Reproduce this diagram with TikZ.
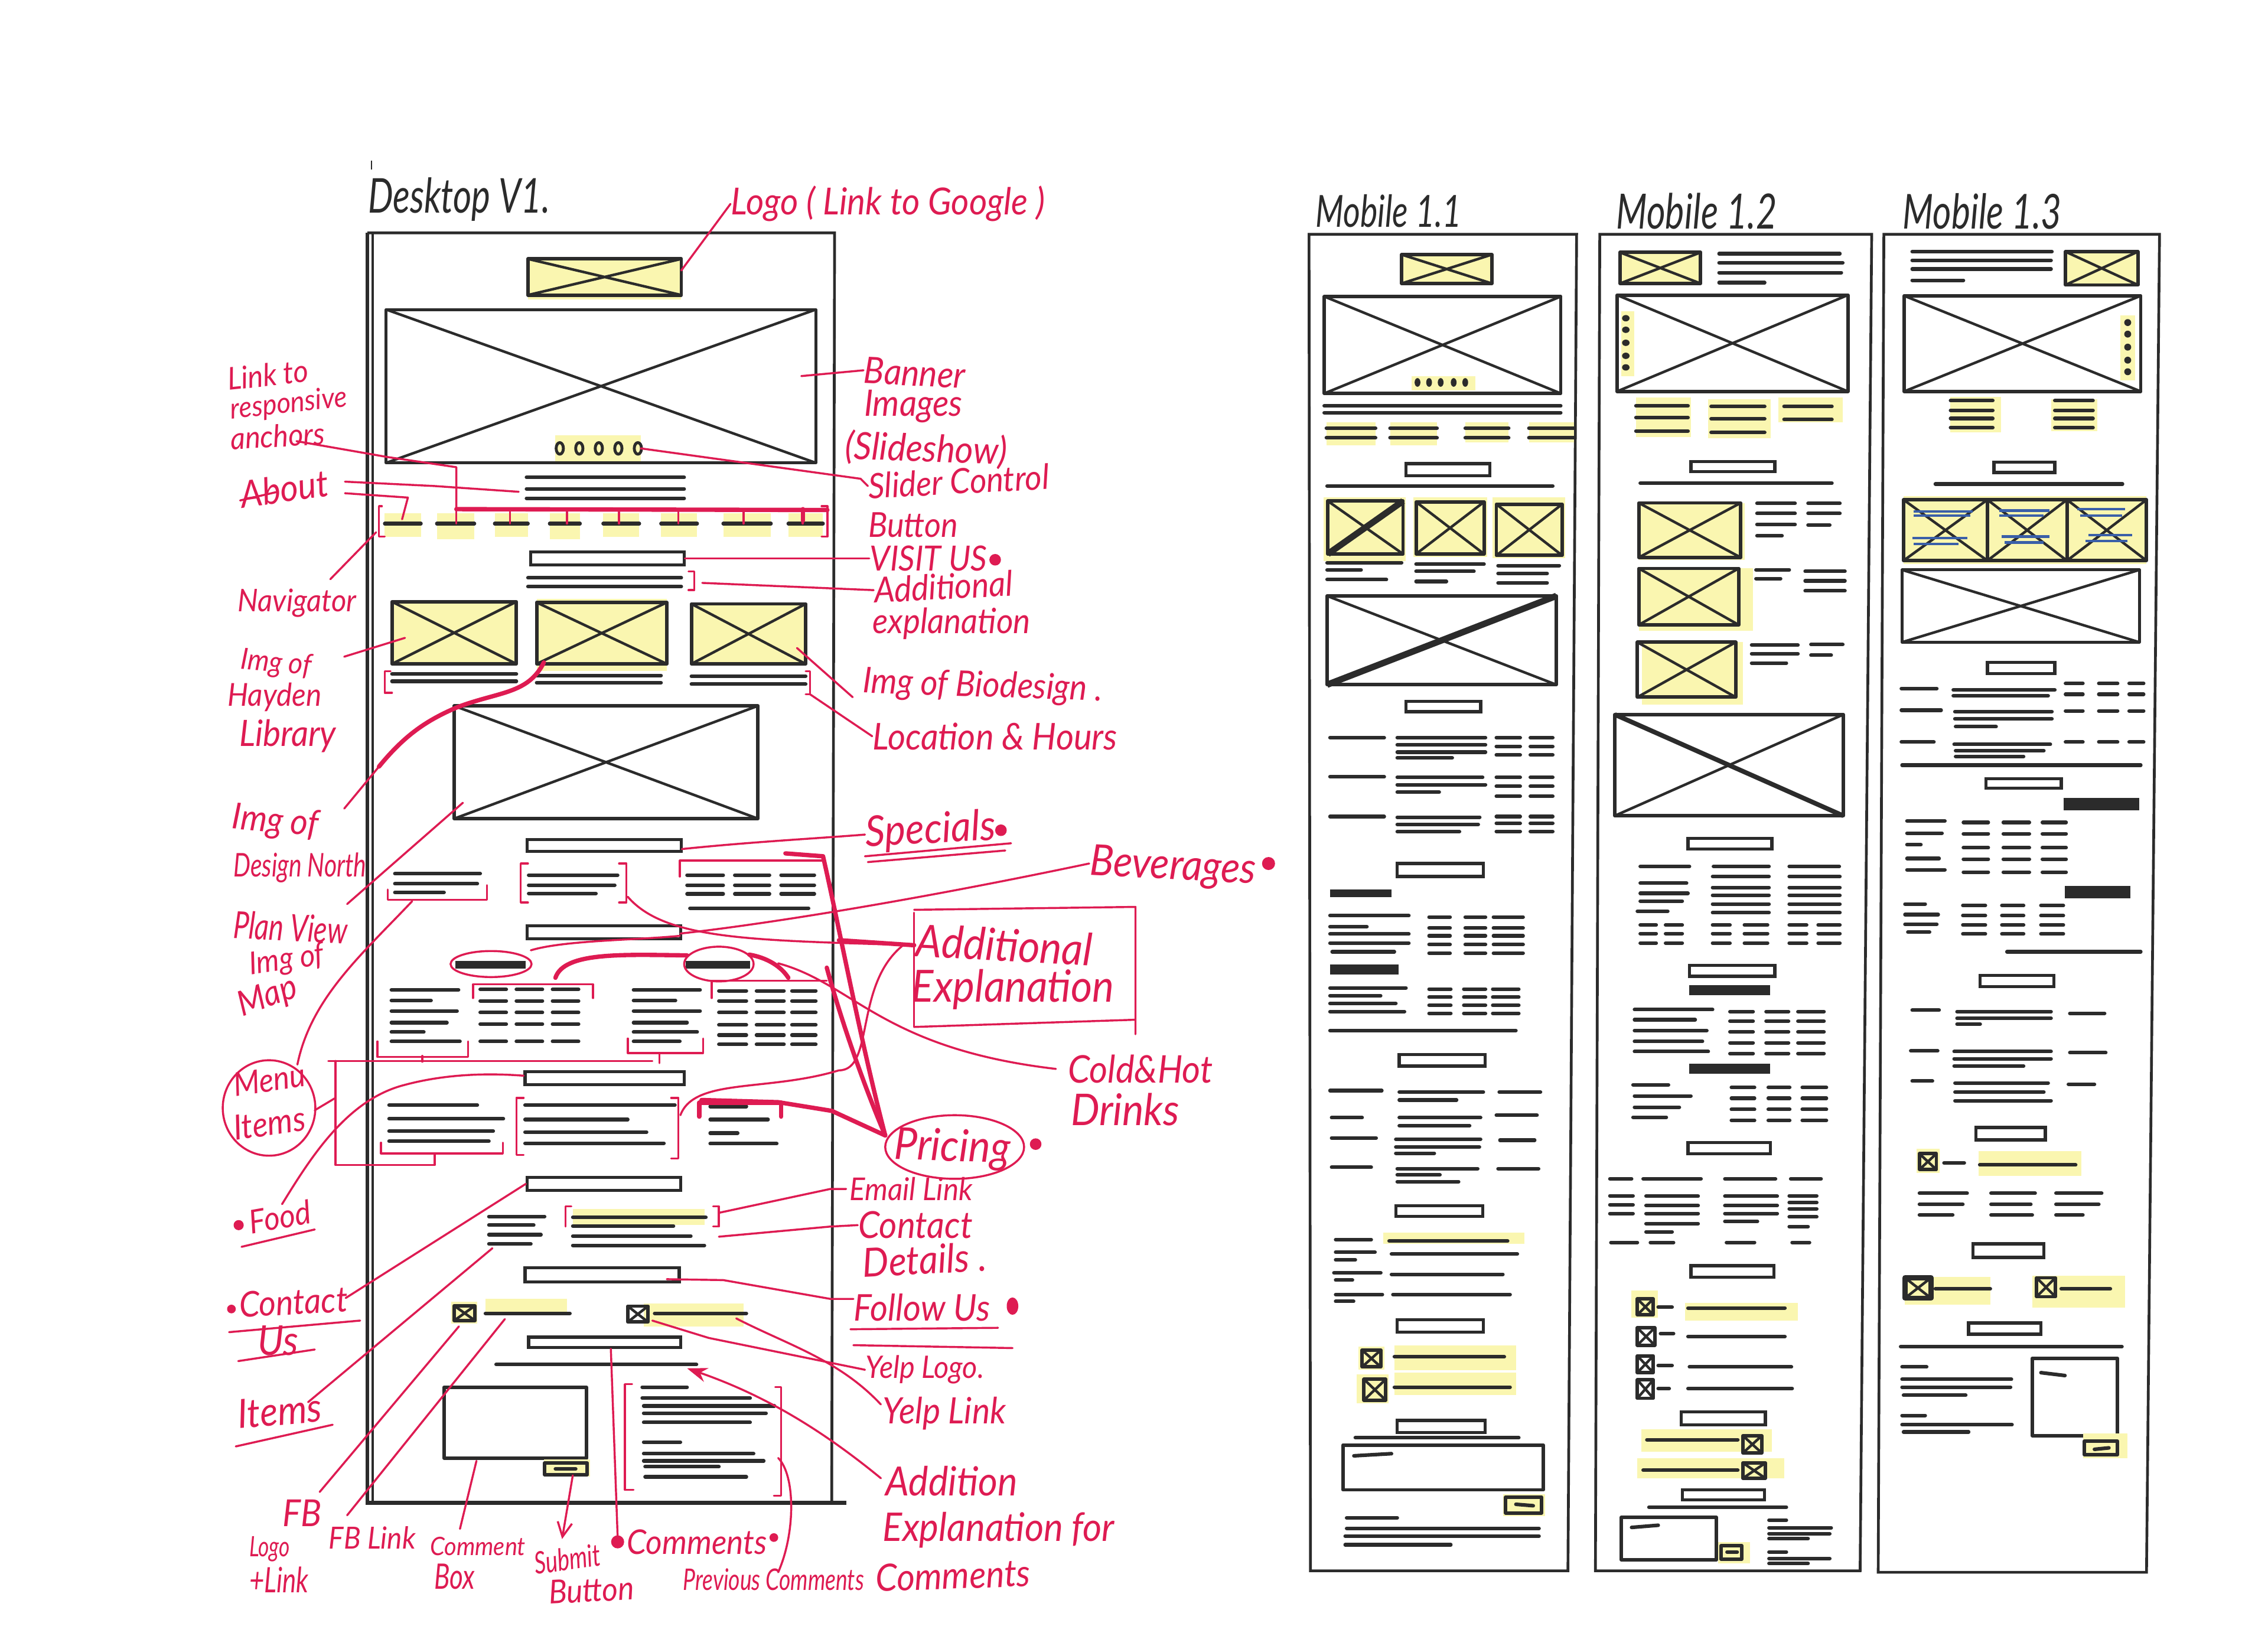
\documentclass[tikz,border=0pt]{standalone}
\usepackage{fontspec}
\usepackage{graphicx}
\setmainfont{Lato}
\usetikzlibrary{arrows.meta}
\definecolor{penred}{HTML}{DE1B52}
\definecolor{hiyel}{HTML}{FAF6B0}
\definecolor{inkb}{HTML}{2B2B2B}
\definecolor{inkblue}{HTML}{3A5FA8}
\tikzset{
  frame/.style={draw=inkb,line width=0.95pt},
  txt/.style={draw=inkb,line width=1.25pt,line cap=round},
  hvy/.style={draw=inkb,line width=2.8pt},
  bx/.style={draw=inkb,line width=1.2pt,line join=round},
  bxt/.style={draw=inkb,line width=1pt,line join=round},
  xl/.style={draw=inkb,line width=0.9pt},
  xh/.style={draw=inkb,line width=2.2pt},
  sec/.style={draw=inkb,line width=1.1pt,fill=white},
  hl/.style={fill=hiyel},
  pen/.style={draw=penred,line width=0.7pt,line cap=round,line join=round},
  pens/.style={draw=penred,line width=1.5pt,line cap=round,line join=round},
  hand/.style={inner sep=0pt,text=penred,font=\itshape},
  handk/.style={inner sep=0pt,text=inkb,font=\itshape},
  dotr/.style={fill=penred}
}
\newcommand\HW[6][0]{\node[hand,rotate=#1,anchor=west] (#2) at (#3,#4) {\scalebox{1}[1.08]{\resizebox{\dimexpr#5pt/2\relax}{!}{#6}}};}
\newcommand\HT[6][0]{\node[hand,rotate=#1,anchor=west] (#2) at (#3,#4) {\scalebox{1}[1.35]{\resizebox{\dimexpr#5pt/2\relax}{!}{#6}}};}
\newcommand\HK[5]{\node[handk,anchor=west] (#1) at (#2,#3) {\scalebox{1}[1.35]{\resizebox{\dimexpr#4pt/2\relax}{!}{#5}}};}
\newcommand\LNS[3]{\foreach \yy in {#3}{\draw[txt] (#1,\yy)--(#2,\yy);}}
\newcommand\TBL[2]{\foreach \aa/\bb in {#1}{\foreach \yy in {#2}{\draw[txt] (\aa,\yy)--(\bb,\yy);}}}
\newcommand\HLR[4]{\fill[hl] (#1,#2) rectangle (#3,#4);}
\newcommand\XB[5][bx]{\draw[#1] (#2,#3) rectangle (#4,#5);\draw[xl] (#2,#3)--(#4,#5) (#2,#5)--(#4,#3);}
\newcommand\SBX[4]{\draw[sec] (#1,#2) rectangle (#3,#4);}
\begin{document}
\begin{tikzpicture}[x=0.5pt,y=-0.5pt]
\useasboundingbox (0,0) rectangle (1568,1140);
\fill[white] (0,0) rectangle (1568,1140);

% ---------- DESKTOP ----------
\draw[inkb,line width=0.4pt] (257,111)--(257,117);
\draw[frame] (254,161)--(577,161)--(575,1039);
\draw[frame,line width=1.3pt] (254,161)--(254,1039)--(585,1039);
\draw[frame] (257.6,161)--(257.6,1039);
\HLR{365}{179}{471}{207}
\XB{365}{179}{471}{204}
\XB[bxt]{267}{214}{564}{320}
\HLR{384}{301}{443}{319}
\foreach \x in {387,400.5,414,427.5,441}{\draw[bxt] (\x,310) ellipse (2.5 and 4);}
\LNS{364}{473}{330,338,344.5}
\HLR{266}{355}{291}{371}\HLR{302}{355}{328}{373}\HLR{342}{355}{365}{371}\HLR{380}{355}{401}{373}\HLR{417}{355}{442}{371}\HLR{457}{355}{482}{371}\HLR{500}{355}{533}{371}\HLR{545}{355}{569}{371}
\TBL{266/291,302/328,342/365,380/401,417/442,457/482,500/533,545/569}{362}
\SBX{367}{381.6}{473}{390.5}
\LNS{365}{471}{399.5,405.5}
\HLR{271}{416}{357}{459}\XB{271}{416}{357}{459}
\HLR{371}{414}{461}{464}\XB{371}{416.5}{461}{459}
\HLR{478}{417.5}{557}{459}\XB{478}{417.5}{557}{459}
\LNS{271}{357}{466,471}
\LNS{371}{457}{467,472}
\LNS{478}{557}{467.5,473}
\XB{314}{488}{524}{566}
\SBX{364.5}{580.5}{471}{588.5}
\draw[txt] (273,604)--(332,604) (273,611)--(330,611) (273,617)--(307,617);
\draw[txt] (365.5,605)--(427,605) (365.5,612)--(425,612) (365.5,617.7)--(412,617.7);
\TBL{475/500,508/532,540/563}{605,612,618}
\draw[txt] (477,628)--(559,628);
\SBX{364.5}{640}{470.5}{649}
\draw[hvy] (315,667)--(363.5,667) (474,667)--(518.6,667);
\draw[txt] (270.6,684.4)--(317,684.4) (270.6,691.7)--(298,691.7) (270.6,699)--(316,699) (270.6,707)--(309,707) (270.6,713.5)--(293,713.5) (270.6,720)--(318,720);
\TBL{332/350,357/375,382/400}{684,692,700,708,720}
\draw[txt] (438,684.4)--(484,684.4) (438,691.7)--(467,691.7) (438,699)--(484,699) (438,707)--(475,707) (438,713.5)--(482,713.5) (438,720)--(470,720);
\TBL{497/516,523/542,547.5/564}{685,692,700,708.6,715.6,722}
\SBX{363}{741}{473}{750}
\draw[txt] (269,764)--(330,764) (269,773.5)--(348,773.5) (269,782)--(341,782) (269,789)--(338,789);
\draw[txt] (363,764)--(466.6,764) (363,774)--(434,774) (363,782.7)--(447,782.7) (363,790.4)--(459,790.4);
\draw[txt] (491,765)--(516,765) (491,774)--(531,774) (491,783.4)--(510,783.4) (491,790.7)--(537,790.7);
\SBX{364.5}{814}{470.5}{823}
\draw[txt] (338,841)--(376.5,841) (338,847)--(369,847) (338,853.6)--(374,853.6) (338,860)--(367,860);
\HLR{396}{836}{487}{847}
\draw[txt] (396,841.6)--(488,841.6) (396,847.6)--(465.6,847.6) (396,854.6)--(477.6,854.6) (396,861)--(487,861);
\SBX{363}{876.4}{469.5}{886.2}
\HLR{312}{900}{330}{915}\HLR{335.6}{898}{392}{908}
\XB{314}{902.7}{328.4}{913}
\draw[txt] (335.6,908)--(394,908);
\HLR{445}{901}{514}{917}
\XB{434}{903}{448}{914}
\draw[txt] (452.6,908)--(516,908);
\SBX{365.5}{924.5}{470.5}{931.5}
\draw[txt] (343,943.4)--(481.5,943.4);
\draw[bx] (307,959) rectangle (405.4,1008);
\HLR{376}{1009}{408}{1021}
\draw[bx] (376.5,1011.5) rectangle (406,1019.5);
\draw[txt] (384,1015.5)--(398,1015.5);
\draw[txt] (444,959)--(475,959) (444,966.6)--(518.6,966.6) (445,972)--(535.4,972) (445,977)--(529.6,977) (445,983.4)--(518.6,983.4) (445,997)--(470.4,997) (445,1005)--(521,1005) (445,1010)--(528,1010) (446,1014)--(497,1014) (446,1021)--(516,1021);

% ---------- MOBILE 1.1 ----------
\draw[frame] (905,162)--(1090,162)--(1084,1086)--(906,1086)--cycle;
\HLR{969}{176}{1031.4}{196}\XB{969}{176}{1031.4}{196}
\XB{915.6}{205}{1079}{272}
\HLR{976}{260}{1020}{270}
\foreach \x in {980,988,996,1005,1013}{\fill[inkb] (\x,264.4) ellipse (2 and 3);}
\LNS{915.5}{1079}{280.6,285.3}
\HLR{917}{292}{951}{308}\HLR{961}{292}{993.5}{308}\HLR{1013}{292}{1043}{306}\HLR{1057}{292}{1088}{306}
\TBL{917/951,961/993.5,1013/1043,1057/1088}{296,302.7}
\SBX{972}{320.5}{1030}{329}
\draw[txt] (917.5,336)--(1073.5,336);
\HLR{915}{344}{972}{388}\XB{918}{346.4}{970}{383}\draw[xh] (918,383)--(970,346.4);
\HLR{977}{344}{1028}{385}\XB{979}{347}{1026}{383}
\HLR{1032}{344}{1082}{386}\XB{1034.5}{348.6}{1080}{384}
\draw[txt] (917.5,389)--(969,389) (917.5,394)--(941,394) (917.5,400.7)--(958.5,400.7) (979,390)--(1026,390) (979,395)--(1019,395) (979,402)--(1000,402) (1035.7,391)--(1078,391) (1035.7,396.5)--(1069.6,396.5) (1035.7,403)--(1069.6,403);
\XB{917.5}{412}{1076}{473.4}\draw[xh] (917.5,473.4)--(1076,412);
\SBX{972}{485}{1023.6}{492}
\TBL{919.5/957}{510,537,564.5}
\draw[txt] (966,510)--(1027,510) (966,515)--(1027,515) (966,520)--(1027,520) (966,524)--(1004,524);
\draw[txt] (966,537.4)--(1025,537.4) (966,542.5)--(1027,542.5) (966,547.7)--(995,547.7);
\draw[txt] (966,565)--(1023,565) (966,570)--(1022,570) (966,575)--(1009,575);
\TBL{1034.5/1051,1058/1073.5}{510,516,522,537.4,543.6,550.5,564.5,569.2,574.8}
\SBX{966}{597}{1025.5}{606}
\draw[hvy] (919.5,617.6)--(962,617.6);
\draw[txt] (919.5,633)--(974,633) (919.5,640.7)--(945,640.7) (919.5,645.7)--(974,645.7) (919.5,652)--(974,652) (921,658)--(964,658);
\TBL{988/1002.5,1013/1027,1032.5/1053}{634,641.6,647,653,659}
\draw[hvy,line width=3.5pt] (919.5,670.3)--(967,670.3);
\draw[txt] (919.5,683)--(972,683) (919.5,688.4)--(954.5,688.4) (919.5,693.7)--(965,693.7) (919.5,699.4)--(971,699.4);
\TBL{988/1003,1012/1027,1032/1050}{683.8,689.4,695,700.6}
\draw[txt] (919.5,712.5)--(1048,712.5);
\SBX{967.4}{729}{1026.7}{737}
\draw[txt] (919.5,754)--(955.3,754) (967.4,755)--(1025.5,755) (967.4,760.5)--(1007,760.5) (1036.5,755)--(1065,755);
\draw[txt] (920.6,772.7)--(941.7,772.7) (967.4,772.7)--(1023.6,772.7) (967.4,778.3)--(1016,778.3) (1034.5,771)--(1062.6,771);
\draw[txt] (920.6,786.7)--(951.4,786.7) (965,787.7)--(1023.6,787.7) (965,793)--(1022.8,793) (965,797.3)--(991.6,797.3) (1037,788.3)--(1061,788.3);
\draw[txt] (920.6,807)--(948,807) (966,808)--(1021.6,808) (966,812.3)--(995.5,812.3) (966,817)--(1008.4,817) (1035.7,808)--(1063.7,808);
\SBX{965}{833.5}{1025}{841}
\HLR{956.5}{852}{1054}{860}
\draw[txt] (960.4,858)--(1042.3,858) (962,867)--(1049,867) (962,881)--(1039,881) (963,895)--(1044,895);
\draw[txt] (923.4,857)--(948,857) (923.4,865.7)--(950.6,865.7) (923.4,871)--(937,871) (922.2,880)--(954.6,880) (923.4,885)--(935,885) (923.4,895)--(955.7,895) (923.4,899.7)--(935.8,899.7);
\SBX{966}{912.5}{1025.5}{921}
\HLR{964}{930}{1048}{947.4}\HLR{964}{949}{1048}{964.6}\HLR{939}{931}{957}{947}\HLR{938}{950}{960}{970}
\XB{941.7}{933.4}{954.6}{945}
\draw[txt] (964,938)--(1040,938);
\XB{943}{953.6}{958}{968}
\draw[txt] (964,959)--(1044,959);
\SBX{966}{982}{1026.7}{990.5}
\draw[txt] (937,994)--(1050,994);
\draw[bx] (928.4,999) rectangle (1067,1030);
\draw[txt] (936,1006.5)--(962,1005);
\HLR{1039}{1033}{1068}{1048}
\draw[bx] (1041,1035) rectangle (1065.7,1046);
\draw[txt] (1048,1040)--(1060,1041);
\draw[txt] (931,1049.4)--(966,1049.4) (931,1056.6)--(1064,1056.6) (930,1062)--(1064,1062) (930,1068)--(1003,1068);

% ---------- MOBILE 1.2 ----------
\draw[frame] (1106,162)--(1294,162)--(1286,1086)--(1103,1086)--cycle;
\HLR{1120}{174.5}{1175.7}{196}\XB{1120}{174.5}{1175.7}{196}
\draw[txt] (1188.5,175.4)--(1272,175.4) (1188.5,181.7)--(1274,181.7) (1188.5,188.5)--(1273,188.5) (1188.5,195.4)--(1220,195.4);
\HLR{1121}{215}{1130}{260}
\XB{1118}{204}{1277.5}{270.6}
\foreach \y in {220,228,237,246,254}{\fill[inkb] (1124,\y) ellipse (2.6 and 2.2);}
\HLR{1131}{275}{1169}{302}\HLR{1181}{276}{1224}{303}\HLR{1229.5}{275}{1274}{292}
\LNS{1131}{1167}{280.6,288.7,298}
\LNS{1183}{1220}{281,289.5,299}
\LNS{1233.4}{1266.5}{281,290}
\SBX{1169}{319}{1227}{326}
\draw[txt] (1134,334)--(1266.5,334);
\HLR{1133}{347.7}{1206}{387}\XB{1133}{347.7}{1203.4}{385.4}
\HLR{1133}{393}{1212}{436}\XB{1133}{393}{1202}{432}
\HLR{1135}{444}{1205}{487}\XB{1132}{444}{1200}{482}
\draw[txt] (1214.7,348)--(1241,348) (1214.7,355)--(1241,355) (1214.7,362.6)--(1241,362.6) (1214.7,370.4)--(1232,370.4) (1250,348)--(1272,348) (1250,355)--(1272,355) (1250,363)--(1265,363);
\draw[txt] (1214,394)--(1237,394) (1214,400)--(1231,400) (1248,395)--(1275.5,395) (1248,401.6)--(1275.5,401.6) (1248,408.5)--(1275.5,408.5);
\draw[txt] (1211,446)--(1243,446) (1211,452)--(1243,452) (1211,458.4)--(1235,458.4) (1252,445.6)--(1274,445.6) (1252,453)--(1266,453);
\XB{1116.4}{494}{1274.4}{564}\draw[xh,line width=1.6pt] (1116.4,494)--(1274.4,564);
\SBX{1167}{579.5}{1225}{587}
\TBL{1134/1168,1184.6/1223,1237/1271.6}{599}
\draw[txt] (1134,610.6)--(1166,610.6) (1134,617.6)--(1167,617.6) (1134,623)--(1163,623) (1132,630)--(1153,630);
\TBL{1184/1223,1237/1272}{606,613.6,619,625,631}
\TBL{1134/1145,1151.5/1163,1184/1196,1206/1222,1237/1249,1257/1272}{639.5,645.4,652}
\SBX{1168}{667.5}{1227}{675}
\draw[hvy,line width=3.5pt] (1168,684.7)--(1223.7,684.7);
\draw[txt] (1130,698)--(1184,698) (1130,705)--(1172,705) (1130,712.5)--(1180,712.5) (1130,720)--(1177,720) (1130,727)--(1181,727);
\TBL{1196/1212,1221/1236.5,1243/1261}{699.4,706,713.4,721,728.4}
\draw[hvy,line width=3.5pt] (1168,739)--(1223.7,739);
\draw[txt] (1129,750)--(1153.5,750) (1130,757.7)--(1169,757.7) (1130,765.5)--(1161,765.5) (1129,772.4)--(1152,772.4);
\TBL{1197/1213,1222.5/1237.3,1246/1262.7}{751.8,759.3,767,774.6}
\SBX{1167}{790}{1224}{797.6}
\TBL{1113/1128,1136/1176,1192.5/1227.5,1238/1259}{815}
\TBL{1113/1129}{826.7,833,839}
\draw[txt] (1138,827)--(1174,827) (1138,833.5)--(1174,833.5) (1138,839)--(1174,839) (1138,846)--(1174,846) (1138,851.6)--(1156,851.6);
\draw[txt] (1192.5,827)--(1228.7,827) (1192.5,833.5)--(1228.7,833.5) (1192.5,839)--(1228.7,839) (1192.5,844.4)--(1215,844.4);
\draw[txt] (1237,826.7)--(1256,826.7) (1237,831.4)--(1256,831.4) (1237,835.7)--(1256,835.7) (1237,841.3)--(1256,841.3) (1237,848)--(1250,848);
\TBL{1113.7/1132,1141/1157,1193.6/1213,1239/1251}{859}
\SBX{1169}{875}{1226.4}{883}
\HLR{1165}{900.6}{1243}{913}\HLR{1128}{892}{1146}{911}
\XB{1132}{898}{1143}{909}\draw[txt] (1146.4,903.7)--(1156,903.7) (1167,904.3)--(1234,904.3);
\XB{1132}{918}{1144}{930}\draw[txt] (1148,922)--(1157,922) (1167,924)--(1234,924);
\XB{1132}{937.4}{1143}{949}\draw[txt] (1146.4,944)--(1156,944) (1168,945)--(1238.5,945);
\XB{1132}{954}{1143}{966.7}\draw[txt] (1146.4,960)--(1154,960) (1167,960)--(1239,960);
\SBX{1162.4}{976}{1220.5}{985}
\HLR{1134.7}{988}{1225}{1003.6}\HLR{1132}{1008}{1233.4}{1022}
\draw[txt] (1138.6,995.4)--(1201.4,995.4) (1136,1016.4)--(1201.4,1016.4);
\XB{1205}{992.6}{1218}{1004.5}\XB{1205}{1011.4}{1220.5}{1022}
\SBX{1163}{1030}{1220}{1037}
\draw[txt] (1140,1042)--(1235,1042);
\draw[bx] (1121,1049) rectangle (1186.6,1078.4);
\draw[txt] (1128,1056)--(1146.4,1054.5);
\HLR{1188}{1066}{1210}{1081}
\draw[bx] (1190,1068.5) rectangle (1204,1078);
\draw[txt] (1194,1073)--(1201,1073);
\draw[txt] (1223,1051)--(1235,1051) (1223,1056.3)--(1266,1056.3) (1223,1060.3)--(1265,1060.3) (1223,1063.8)--(1250,1063.8) (1223,1073)--(1235,1073) (1223,1077.5)--(1265,1077.5) (1223,1081)--(1250,1081);

% ---------- MOBILE 1.3 ----------
\draw[frame] (1302.4,162)--(1493,162)--(1484,1087)--(1298.5,1087)--cycle;
\draw[txt] (1322,174)--(1418.6,174) (1322,180)--(1418,180) (1322,186)--(1418,186) (1322,193.8)--(1357.4,193.8);
\HLR{1428}{174}{1478}{197}\XB{1428}{174}{1478}{197}
\HLR{1466}{218}{1476}{263}
\XB{1316.5}{204.5}{1480}{270.6}
\foreach \y in {223,231,240,249,257}{\fill[inkb] (1471,\y) ellipse (2.4 and 2.4);}
\HLR{1348.5}{274.4}{1383.5}{298.7}\HLR{1418}{276}{1450}{298}
\LNS{1348.5}{1377.7}{277,283.7,289.3,295.6}
\LNS{1420.6}{1447}{277,283.7,289.3,295.6}
\SBX{1378.5}{319.6}{1420.6}{326.7}
\draw[txt] (1338,334.6)--(1467.4,334.6);
\HLR{1316}{343}{1484}{390}
\XB{1316}{345.5}{1374}{387.6}\XB{1374}{345.5}{1429}{387.6}\XB{1429}{345.5}{1484}{387.6}
\draw[inkblue,line width=0.9pt] (1323,353.5)--(1364,353.5) (1323,356.5)--(1362,356.5) (1322,372)--(1360,372) (1323,376)--(1354,376) (1382,353)--(1417,353) (1382,356.5)--(1413,356.5) (1384,371)--(1417,371) (1386,375)--(1413,375) (1436,352)--(1469,352) (1438,356.5)--(1467,356.5) (1444,370)--(1474,370) (1442,374)--(1471,374);
\XB[bxt]{1315}{394}{1479}{444}
\SBX{1374}{458}{1420.6}{465.6}
\TBL{1428/1440,1451/1464,1472/1482}{472.5,480,491.5,513}
\draw[txt] (1314.5,476)--(1339,476) (1350.4,477)--(1420.6,477) (1350.4,481)--(1416,481);
\draw[txt] (1314.5,491)--(1342,491) (1351.5,492)--(1418.6,492) (1351.5,497)--(1418.6,497) (1352,502.4)--(1380,502.4);
\draw[txt] (1314.5,513)--(1337,513) (1351,514.6)--(1417.5,514.6) (1352,519)--(1413,519) (1352,523)--(1399,523);
\draw[txt] (1315,529)--(1480,529);
\SBX{1373}{538.5}{1425}{545}
\draw[hvy,line width=4.2pt] (1426.5,556)--(1479,556);
\draw[txt] (1318.4,567.6)--(1344.6,567.6) (1318.4,576)--(1342.6,576) (1318.4,584)--(1328,584) (1318.4,593.5)--(1340.6,593.5) (1318.4,601.3)--(1344.6,601.3);
\TBL{1357.4/1374.6,1385/1403,1412/1428.4}{568.6,576.4,586,594,603}
\draw[hvy,line width=4.2pt] (1427.6,616.7)--(1473,616.7);
\draw[txt] (1317,625)--(1331,625) (1317,632.3)--(1340,632.3) (1317,639)--(1339,639) (1319,644.5)--(1334,644.5);
\TBL{1357/1372.6,1384/1399,1411/1426.5}{626,633,639.5,645.7}
\draw[txt] (1387.5,658)--(1480,658);
\SBX{1369}{674.4}{1420}{682}
\draw[txt] (1322,698.4)--(1340.6,698.4) (1353,699.4)--(1418,699.4) (1353,704)--(1418,704) (1353,708)--(1369,708) (1431,700.6)--(1455,700.6);
\draw[txt] (1321,726.5)--(1339.6,726.5) (1351,727)--(1418,727) (1351,732)--(1418,732) (1351,737)--(1399,737) (1431,727.8)--(1455.8,727.8);
\draw[txt] (1322,747.4)--(1336,747.4) (1351.6,748.7)--(1416,748.7) (1351.6,755)--(1413,755) (1351.6,761)--(1418,761) (1430,749.6)--(1448,749.6);
\SBX{1366}{779.5}{1414}{788}
\HLR{1368}{796}{1439}{813}\HLR{1325}{794}{1341}{811}
\XB{1327}{797.6}{1338.7}{808.6}
\draw[txt] (1344,804)--(1358,804) (1368.7,805.4)--(1435,805.4);
\draw[txt] (1327,825)--(1360,825) (1327,832.6)--(1357,832.6) (1327,840)--(1350,840) (1376.5,825)--(1407,825) (1376.5,832.6)--(1404,832.6) (1376.5,840)--(1405,840) (1421.4,825)--(1453,825) (1421.4,832.6)--(1451,832.6) (1421.4,840)--(1440,840);
\SBX{1364}{860}{1413}{869.4}
\HLR{1317}{883}{1376}{902}\HLR{1405}{882}{1469}{904}
\XB[bx,line width=1.8pt]{1317}{883.4}{1335}{897.5}
\draw[txt] (1338,891)--(1376,891);
\XB{1408}{883.4}{1421}{896.5}
\draw[txt] (1425,891)--(1459,891);
\SBX{1361}{914.6}{1411}{922.4}
\draw[txt] (1314,931)--(1467,931);
\draw[txt] (1315,945)--(1332,945) (1315,953.6)--(1390.6,953.6) (1315,959)--(1390,959) (1316,964.6)--(1359,964.6) (1315,978.6)--(1331,978.6) (1315,985)--(1391,985) (1316,990)--(1361,990);
\draw[bx] (1405,939) rectangle (1464,992.6);
\draw[txt] (1411,949)--(1427.6,951);
\HLR{1440}{991}{1471}{1008}
\draw[bx] (1441,996.4) rectangle (1464,1005.7);
\draw[txt] (1448,1002)--(1458,1001);

% ---------- TITLES ----------
\HK{tDesk}{254}{138}{126}{Desktop V1.}
\HK{tM1}{909}{146}{101}{Mobile 1.1}
\HK{tM2}{1117}{146}{111}{Mobile 1.2}
\HK{tM3}{1315}{146}{110}{Mobile 1.3}

% ---------- LABELS ----------
\HW{lLogo}{505}{141}{217}{Logo ( Link to Google )}
\HW[-3]{lBan}{597}{256}{70}{Banner}
\HW{lImg}{597}{281}{68}{Images}
\HW[-2]{lSlide}{584}{309}{112}{(Slideshow)}
\HW[3]{lSlider}{600}{336}{125}{Slider Control}
\HW{lButton}{600}{363}{62}{Button}
\HW{lVisit}{601}{386}{81}{VISIT US}
\HW[3]{lAdd}{604}{408}{96}{Additional}
\HW{lExpl}{603}{431}{109}{explanation}
\HW[-2]{lBio}{596}{472}{166}{Img of Biodesign .}
\HW{lLoc}{603}{509}{169}{Location \& Hours}
\HW[3]{lSpec}{598}{577}{90}{Specials}
\HW[-3]{lBev}{753}{597}{115}{Beverages}
\HW[-3]{lAdd2}{633}{650}{122}{Additional}
\HW{lExp2}{630}{684}{140}{Explanation}
\HW{lCold}{738}{739}{100}{Cold\&Hot}
\HW{lDrink}{740}{767}{75}{Drinks}
\HW[-2]{lPrice}{618}{793}{80}{Pricing}
\HW{lEmail}{587}{822}{85}{Email Link}
\HW{lCont}{593}{847}{79}{Contact}
\HW[3]{lDet}{596}{873}{86}{Details .}
\HW{lFollow}{590}{904}{94}{Follow Us}
\HW{lYLogo}{598}{947}{82}{Yelp Logo.}
\HW{lYLink}{610}{977}{85}{Yelp Link}
\HW{lAddn}{612}{1024}{91}{Addition}
\HW{lExp3}{610}{1058}{160}{Explanation for}
\HW[2]{lComm}{605}{1091}{107}{Comments}
\HT{lPrev}{472}{1092}{125}{Previous Comments}
\HW{lComs}{433}{1066}{97}{Comments}
\HT[8]{lSub}{369}{1081}{46}{Submit}
\HW[3]{lBut}{379}{1101}{59}{Button}
\HW{lCB}{297}{1069}{66}{Comment}
\HT{lBox}{300}{1090}{28}{Box}
\HW{lFBL}{227}{1063}{60}{FB Link}
\HW{lFB}{195}{1046}{27}{FB}
\HT{lLg}{172}{1071}{28}{Logo}
\HT{lPl}{172}{1092}{41}{+Link}
\HW[5]{lItems}{164}{978}{58}{Items}
\HW[3]{lCUs}{165}{902}{75}{Contact}
\HW{lUs}{178}{927}{28}{Us}
\HW[10]{lFood}{172}{845}{43}{Food}
\HW[8]{lMenu}{161}{750}{50}{Menu}
\HW[8]{lIt}{161}{780}{50}{Items}
\HW[8]{lIMap}{172}{668}{52}{Img of}
\HW[20]{lMap}{165}{697}{42}{Map}
\HT[-3]{lPlan}{161}{639}{79}{Plan View}
\HT{lDN}{161}{600}{92}{Design North}
\HW[-5]{lIDN}{160}{566}{60}{Img of}
\HW[-5]{lIH}{166}{457}{49}{Img of}
\HW{lHay}{157}{482}{65}{Hayden}
\HW{lLib}{165}{509}{67}{Library}
\HW{lNav}{164}{417}{82}{Navigator}
\HW[8]{lAbout}{166}{342}{61}{About}
\HW[6]{lLnk}{157}{262}{56}{Link to}
\HW[6]{lResp}{159}{284}{81}{responsive}
\HW[3]{lAnch}{159}{303}{65}{anchors}

% ---------- TARGETS ----------
\foreach \n/\x/\y in {tLogo/471/187,tBan/554/260,tSlidA/443/310,tSlidB/595/331,tLinkA/205/305,tLinkB/315.5/352,tAbA/358.6/340,tAbB/278/359,tNav/260/368,
 tVisit/473.5/386,tAddn/485.5/403,tHay/280/441,tBio/551/448,tLoc/560/480,tDN/376/458,tPV/320/555,tMap/285/623,tSpec/471.4/587,tBev/470.4/645.4,
 tAd1/434/620,tEl1/367/657,tEl2/384/676,tEl2b/518/660,tCold/730/739,tPr/612/785,tPr1/543/590,tPr2/571.6/669,tPr3/470.4/771,tPr4/485/760.5,
 tMenu/232/759,tFood/362/743.7,tCU/363.5/818.5,tItem/340.4/863,tFBL/317.3/917,tFBK/349/912,tCB/329.4/1010,tSub/396/1020,tComs/422.3/932.5,tPrev/538/1008,tAddE/475/946,
 tYLo/451/913,tYLi/509/911.5,tFol/461/884.4,tDet/497/855,tEm/497/838.5}
 {\coordinate (\n) at (\x,\y);}

% ---------- CONNECTORS ----------
\draw[pen] (lLogo.west)--(tLogo);
\draw[pen] (lBan.west)--(tBan);
\draw[pen] (tSlidA)--(tSlidB)--(lSlider.west);
\draw[pen] (tLinkA)--(268,316)--(315.5,323)--(tLinkB);
\draw[pens] (315.5,352)--(572,352.6);
\foreach \x in {352.6,392,428,469,514,555}{\draw[pen] (\x,352)--(\x,362);}
\draw[pens] (555,352)--(555,360);
\draw[pen] (315.5,352)--(315.5,362);
\draw[pen] (238.5,333)--(300,336)--(tAbA);
\draw[pen] (238.5,341)--(282,344)--(tAbB);
\draw[pen] (228.4,400.4)--(tNav);
\draw[pen] (264,350)--(262,350)--(262,371)--(266,371);
\draw[pen] (568,350)--(572,350)--(572,371)--(568,371);
\draw[pen] (tVisit)--(lVisit.west);
\draw[pen] (476,395)--(480,395)--(480,408)--(476,408);
\draw[pen] (tAddn)--(lAdd.west);
\draw[pen] (238,454)--(tHay);
\draw[pen] (270,464)--(266,464)--(266,479)--(271,479);
\draw[pen] (tBio)--(589.5,482);
\draw[pen] (557,464)--(560,464)--(560,480)--(557,480);
\draw[pen] (tLoc)--(lLoc.west);
\draw[pen] (238,559)--(262,530);
\draw[pens] (262,530) .. controls (280,508) and (295,498) .. (316,489) .. controls (345,478) and (365,480) .. (tDN);
\draw[pen] (240,625)--(tPV);
\draw[pen] (268,615)--(268,622)--(336.6,622)--(336.6,612);
\draw[pen] (205.6,736) .. controls (215,690) and (250,660) .. (tMap);
\draw[pen] (365,597)--(360,597)--(360,624)--(365,624);
\draw[pen] (428,597)--(433,597)--(433,624)--(428,624);
\draw[pen] (470,606)--(470,595)--(569,595);
\draw[pens] (tPr1)--(569,592);
\draw[pen] (tSpec) .. controls (520,582) and (560,580) .. (lSpec.west);
\draw[pen] (598,592)--(699,583);
\draw[pen] (600,596)--(695,588);
\fill[dotr] (692,574) circle (4);
\draw[pen] (tBev) .. controls (520,640) and (620,625) .. (lBev.west);
\fill[dotr] (877,597) circle (4.5);
\draw[pen] (tAd1) .. controls (460,650) and (520,650) .. (632,653.5);
\draw[pens] (580,650)--(632,653.5);
\draw[pen] (tEl1) .. controls (390,650) and (440,650) .. (470,647);
\draw[pens] (tEl2) .. controls (390,658) and (430,660) .. (475,660.5);
\draw[pens] (tEl2b) .. controls (530,662) and (540,668) .. (545,676);
\draw[pen] (538,666) .. controls (590,680) and (610,725) .. (tCold);
\draw[pens] (569,592) .. controls (580,640) and (595,720) .. (tPr);
\draw[pens] (tPr2) .. controls (580,700) and (595,745) .. (tPr);
\draw[pen] (625,653) .. controls (590,680) and (605,740) .. (580,740) .. controls (530,755) and (480,745) .. (tPr3);
\draw[pens] (tPr4)--(538,762)--(575,768)--(tPr);
\draw[pen] (632,631)--(632,710);
\draw[pen] (632,629)--(785,627)--(785,715);
\draw[pen] (632,710)--(785,705);
\draw[pen] (660,793) ellipse (48 and 22);
\fill[dotr] (716,791) circle (4);
\draw[pen] (339.5,666.5) ellipse (28 and 9);
\draw[pen] (497,666.5) ellipse (24 and 12);
\draw[pen] (261,720)--(261,730.7)--(323.6,730.7)--(323.6,720);
\draw[pen] (327,690)--(327,680.5)--(410,680.5)--(410,690);
\draw[pen] (434,718)--(434,728)--(486,728)--(486,718);
\draw[pen] (456,728)--(456,735);
\draw[pen] (492,690)--(492,678)--(571.6,678);
\draw[pen] (227,733.5)--(451,733.5);
\draw[pen] (292,730)--(292,734);
\draw[pen] (232,733.5)--(232,805.5)--(300.5,805.5)--(300.5,797.4);
\draw[pen] (263.4,790)--(263.4,797.4)--(347.6,797.4)--(347.6,790);
\draw[pen] (362,759)--(357,759)--(357,798.5)--(362,798.5);
\draw[pen] (464,759)--(469,759)--(469,801)--(464,801);
\draw[pens] (483.4,772)--(483.4,762.3)--(540,762.3)--(540,772);
\draw[pen] (186,766) ellipse (32 and 33);
\draw[pen] (217.6,767.6)--(tMenu);
\draw[pen] (195,832.5) .. controls (215,800) and (240,760) .. (280,750) .. controls (310,742) and (340,742) .. (tFood);
\draw[pen] (239,897.4)--(tCU);
\draw[pen] (213,969.4)--(tItem);
\draw[pen] (391,848)--(391,834)--(395,834);
\draw[pen] (493,834)--(497,834)--(497,848)--(493,848);
\draw[pen] (tEm)--(574,822)--(585,822);
\draw[pen] (tDet)--(574,848)--(lCont.west);
\draw[pen] (tFol)--(500,885)--(574,898)--(590,898);
\draw[pen] (588,919)--(690,918) (590,930)--(700,932);
\fill[dotr] (700,903) ellipse (4 and 6);
\fill[dotr] (688,387) circle (4);
\draw[pen] (tYLo)--(490,925)--(lYLogo.west);
\draw[pen] (tYLi) .. controls (545,930) and (580,940) .. (609,971);
\draw[pen, -{Stealth[length=7pt,width=5pt]}] (609,1022) .. controls (570,990) and (530,965) .. (tAddE);
\draw[pen] (437,957)--(432,957)--(432,1030)--(438,1030);
\draw[pen] (536,959)--(540,959)--(540,1034)--(535,1034);
\draw[pen] (538,1087) .. controls (550,1060) and (550,1020) .. (tPrev);
\draw[pen] (427,1062.4)--(tComs);
\fill[dotr] (427,1066) circle (4.5);
\fill[dotr] (535,1063) circle (3);
\draw[pen,-{Straight Barb[length=5pt,width=5pt]}] (tSub)--(388.6,1064);
\draw[pen] (318,1057)--(tCB);
\draw[pen] (221,1031.5)--(tFBL);
\draw[pen] (240,1047.6)--(tFBK);
\draw[pen] (158.4,921)--(249,913);
\draw[pen] (164.7,941)--(217.6,933);
\draw[pen] (163,1000)--(230,985);
\draw[pen] (167,862)--(217.6,850);
\fill[dotr] (165,847) circle (3.5);
\fill[dotr] (160,905) circle (3);
\draw[pen] (166,346)--(192,340);
\end{tikzpicture}
\end{document}
